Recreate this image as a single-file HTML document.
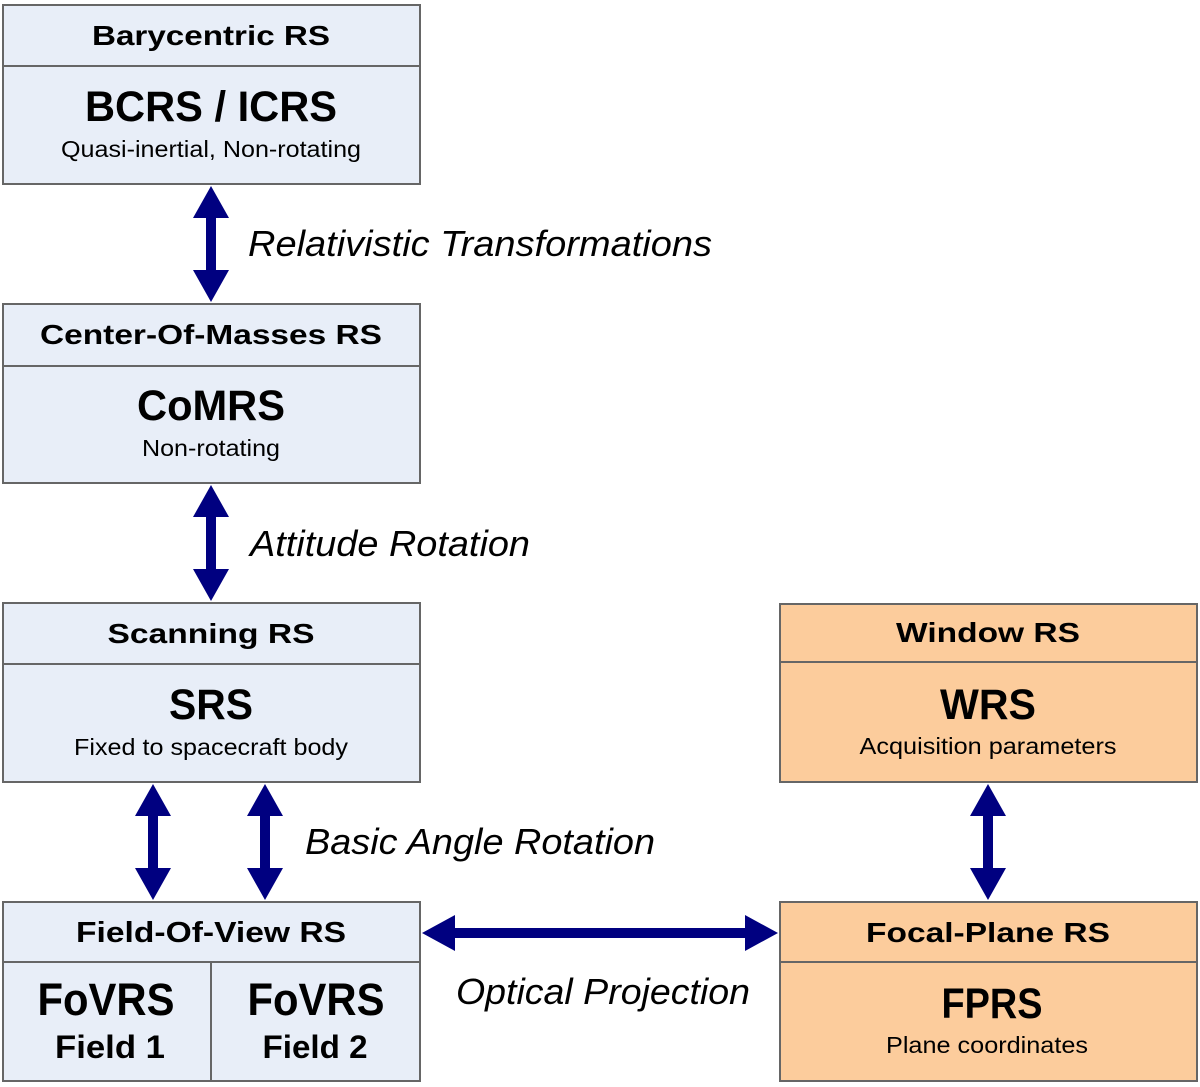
<!DOCTYPE html>
<html><head><style>html,body{margin:0;padding:0;background:#fff}svg{display:block}</style></head>
<body>
<svg width="1200" height="1087" viewBox="0 0 1200 1087" xmlns="http://www.w3.org/2000/svg" font-family="Liberation Sans, Arial, sans-serif">
<defs>
<g id="va">
<polygon points="0,0 18,32 5,32 5,84 18,84 0,116 -18,84 -5,84 -5,32 -18,32" fill="#000080"/>
</g>
</defs>
<g stroke="#666" stroke-width="2">
<rect x="3" y="5" width="417" height="179" fill="#e8eef8"/>
<line x1="3" y1="66" x2="420" y2="66"/>
<rect x="3" y="304" width="417" height="179" fill="#e8eef8"/>
<line x1="3" y1="366" x2="420" y2="366"/>
<rect x="3" y="603" width="417" height="179" fill="#e8eef8"/>
<line x1="3" y1="664" x2="420" y2="664"/>
<rect x="3" y="902" width="417" height="179" fill="#e8eef8"/>
<line x1="3" y1="962" x2="420" y2="962"/>
<line x1="211" y1="962" x2="211" y2="1081"/>
<rect x="780" y="604" width="417" height="178" fill="#fccc9c"/>
<line x1="780" y1="662" x2="1197" y2="662"/>
<rect x="780" y="902" width="417" height="179" fill="#fccc9c"/>
<line x1="780" y1="962" x2="1197" y2="962"/>
</g>
<use href="#va" x="211" y="186"/>
<use href="#va" x="211" y="485"/>
<use href="#va" x="153" y="784"/>
<use href="#va" x="265" y="784"/>
<use href="#va" x="988" y="784"/>
<polygon points="422,933 455,915 455,928 745,928 745,915 778,933 745,951 745,938 455,938 455,951" fill="#000080"/>
<g fill="#000" text-anchor="middle" font-weight="bold">
<text x="211" y="45" font-size="28" textLength="238" lengthAdjust="spacingAndGlyphs">Barycentric RS</text>
<text x="211" y="121" font-size="43" textLength="252" lengthAdjust="spacingAndGlyphs">BCRS / ICRS</text>
<text x="211" y="344" font-size="28" textLength="342" lengthAdjust="spacingAndGlyphs">Center-Of-Masses RS</text>
<text x="211" y="420" font-size="43" textLength="148" lengthAdjust="spacingAndGlyphs">CoMRS</text>
<text x="211" y="643" font-size="28" textLength="207" lengthAdjust="spacingAndGlyphs">Scanning RS</text>
<text x="211" y="719" font-size="43" textLength="84" lengthAdjust="spacingAndGlyphs">SRS</text>
<text x="211" y="942" font-size="29" textLength="270" lengthAdjust="spacingAndGlyphs">Field-Of-View RS</text>
<text x="106" y="1015" font-size="45" textLength="137" lengthAdjust="spacingAndGlyphs">FoVRS</text>
<text x="316" y="1015" font-size="45" textLength="137" lengthAdjust="spacingAndGlyphs">FoVRS</text>
<text x="110" y="1058" font-size="32" textLength="110" lengthAdjust="spacingAndGlyphs">Field 1</text>
<text x="315" y="1058" font-size="32" textLength="105" lengthAdjust="spacingAndGlyphs">Field 2</text>
<text x="988" y="642" font-size="28" textLength="184" lengthAdjust="spacingAndGlyphs">Window RS</text>
<text x="988" y="719" font-size="43" textLength="96" lengthAdjust="spacingAndGlyphs">WRS</text>
<text x="988" y="942" font-size="28" textLength="244" lengthAdjust="spacingAndGlyphs">Focal-Plane RS</text>
<text x="992" y="1018" font-size="43" textLength="101" lengthAdjust="spacingAndGlyphs">FPRS</text>
</g>
<g fill="#000" text-anchor="middle" font-size="23">
<text x="211" y="157" textLength="300" lengthAdjust="spacingAndGlyphs">Quasi-inertial, Non-rotating</text>
<text x="211" y="456" textLength="138" lengthAdjust="spacingAndGlyphs">Non-rotating</text>
<text x="211" y="755" textLength="274" lengthAdjust="spacingAndGlyphs">Fixed to spacecraft body</text>
<text x="988" y="754" textLength="257" lengthAdjust="spacingAndGlyphs">Acquisition parameters</text>
<text x="987" y="1053" textLength="202" lengthAdjust="spacingAndGlyphs">Plane coordinates</text>
</g>
<g fill="#000" font-style="italic" font-size="36">
<text x="248" y="256" textLength="464" lengthAdjust="spacingAndGlyphs">Relativistic Transformations</text>
<text x="250" y="556" textLength="280" lengthAdjust="spacingAndGlyphs">Attitude Rotation</text>
<text x="305" y="854" textLength="350" lengthAdjust="spacingAndGlyphs">Basic Angle Rotation</text>
<text x="456" y="1004" textLength="294" lengthAdjust="spacingAndGlyphs">Optical Projection</text>
</g>
</svg>
</body></html>
